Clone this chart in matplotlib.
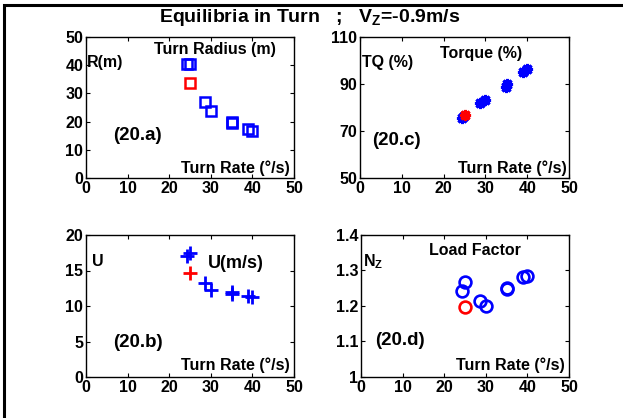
import matplotlib
matplotlib.use("Agg")
import matplotlib.pyplot as plt
from matplotlib.patches import Rectangle
from matplotlib.ticker import FormatStrFormatter

plt.rcParams["font.family"] = ["Liberation Sans", "DejaVu Sans"]
plt.rcParams["font.weight"] = "bold"
plt.rcParams["mathtext.fontset"] = "custom"
plt.rcParams["mathtext.bf"] = "Liberation Sans:bold"
plt.rcParams["mathtext.rm"] = "Liberation Sans:bold"

# turn rate (deg/s) of the blue equilibria, red point is the reference case
rate_blue = [24.3, 24.9, 28.7, 30.0, 35.0, 35.1, 38.9, 40.0]
rate_red = [25.0]

radius_blue = [40.3, 40.5, 26.9, 23.6, 19.8, 19.6, 17.2, 16.5]
radius_red = [33.8]

torque_blue = [75.5, 76.5, 82.0, 83.4, 88.6, 90.0, 95.3, 96.3]
torque_red = [76.9]

u_blue = [17.0, 17.5, 13.3, 12.2, 11.7, 12.0, 11.4, 11.2]
u_red = [14.6]

nz_blue = [1.243, 1.268, 1.215, 1.200, 1.249, 1.251, 1.282, 1.284]
nz_red = [1.196]

xticks = [0, 10, 20, 30, 40, 50]

fig = plt.figure(figsize=(6.23, 4.18), dpi=100)
W, H = 623.0, 418.0

# outer frame (only left/top edges fall inside the picture)
fig.patches.append(Rectangle((4 / W, -0.1), 1.2, 1.1 - 5 / H,
                             transform=fig.transFigure, fill=False,
                             edgecolor="black", linewidth=2.2))


def make_ax(px_left, px_top, px_right, px_bottom):
    ax = fig.add_axes([px_left / W, 1 - px_bottom / H,
                       (px_right - px_left) / W, (px_bottom - px_top) / H])
    ax.tick_params(direction="in", top=True, right=True, length=3,
                   labelsize=11.5, pad=2, width=0.8)
    for s in ax.spines.values():
        s.set_linewidth(1.0)
    ax.set_xlim(0, 50)
    ax.set_xticks(xticks)
    return ax


txt = dict(fontsize=11.5, fontweight="bold")
tag = dict(fontsize=13.5, fontweight="bold")

# (20.a) turn radius
ax = make_ax(86, 37, 294, 178)
ax.plot(rate_blue, radius_blue, "s", mfc="none", mec="blue", ms=7.5, mew=1.8)
ax.plot(rate_red, radius_red, "s", mfc="none", mec="red", ms=7.5, mew=1.8)
ax.set_ylim(0, 50)
ax.set_yticks([0, 10, 20, 30, 40, 50])
ax.text(0.2, 41, "R(m)", ha="left", va="center", **txt)
ax.text(31, 45.4, "Turn Radius (m)", ha="center", va="center", **txt)
ax.text(12.4, 15.2, "(20.a)", ha="center", va="center", **tag)
ax.text(36, 3.5, "Turn Rate (°/s)", ha="center", va="center", **txt)

# (20.c) torque
ax = make_ax(360, 37, 569, 178)
ax.plot(rate_blue, torque_blue, ls="none", marker=(8, 2, 0), mfc="none",
        mec="blue", ms=8, mew=2.2)
ax.plot(rate_red, torque_red, ls="none", marker=(8, 2, 0), mfc="none",
        mec="red", ms=8, mew=2.2)
ax.set_ylim(50, 110)
ax.set_yticks([50, 70, 90, 110])
ax.text(0.5, 99, "TQ (%)", ha="left", va="center", **txt)
ax.text(29, 103, "Torque (%)", ha="center", va="center", **txt)
ax.text(8.8, 66, "(20.c)", ha="center", va="center", **tag)
ax.text(36.5, 54, "Turn Rate (°/s)", ha="center", va="center", **txt)

# (20.b) speed
ax = make_ax(86, 235, 294, 377)
ax.plot(rate_blue, u_blue, "+", color="blue", ms=10, mew=2)
ax.plot(rate_red, u_red, "+", color="red", ms=10, mew=2)
ax.set_ylim(0, 20)
ax.set_yticks([0, 5, 10, 15, 20])
ax.text(1.5, 16.2, "U", ha="left", va="center", **txt)
ax.text(36, 16, "U(m/s)", ha="center", va="center", fontsize=13, fontweight="bold")
ax.text(12.4, 4.8, "(20.b)", ha="center", va="center", **tag)
ax.text(36, 1.6, "Turn Rate (°/s)", ha="center", va="center", **txt)

# (20.d) load factor
ax = make_ax(361, 235, 569, 377)
ax.plot(rate_blue, nz_blue, "o", mfc="none", mec="blue", ms=8.5, mew=1.9)
ax.plot(rate_red, nz_red, "o", mfc="none", mec="red", ms=8.5, mew=1.9)
ax.set_ylim(1.0, 1.4)
ax.set_yticks([1.0, 1.1, 1.2, 1.3, 1.4])
ax.yaxis.set_major_formatter(FormatStrFormatter("%g"))
ax.text(0.6, 1.325, r"N$_\mathbf{Z}$", ha="left", va="center", **txt)
ax.text(27.4, 1.356, "Load Factor", ha="center", va="center", **txt)
ax.text(9.4, 1.102, "(20.d)", ha="center", va="center", **tag)
ax.text(35.8, 1.032, "Turn Rate (°/s)", ha="center", va="center", **txt)

fig.text(310 / W, 1 - 17 / H, r"Equilibria in Turn   ;   V$_\mathbf{Z}$=-0.9m/s",
         ha="center", va="center", fontsize=14, fontweight="bold")

fig.savefig("out.png", dpi=100)
